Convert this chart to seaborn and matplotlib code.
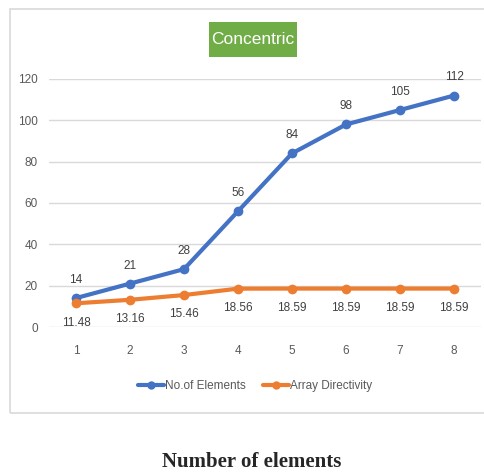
import matplotlib
matplotlib.use("Agg")
import matplotlib.pyplot as plt
from matplotlib.patches import Rectangle
import seaborn as sns
import pandas as pd

# Chart data
elements_idx = [1, 2, 3, 4, 5, 6, 7, 8]
num_elements = [14, 21, 28, 56, 84, 98, 105, 112]
directivity = [11.48, 13.16, 15.46, 18.56, 18.59, 18.59, 18.59, 18.59]
directivity_labels = ["11.48", "13.16", "15.46", "18.56", "18.59", "18.59", "18.59", "18.59"]
series_names = ["No.of Elements", "Array Directivity"]
y_ticks = [0, 20, 40, 60, 80, 100, 120]

BLUE = "#4472C4"
ORANGE = "#ED7D31"
GRID = "#D9D9D9"
TEXT = "#595959"

sns.set_style("white")
plt.rcParams["font.family"] = ["Liberation Sans", "DejaVu Sans"]

df = pd.DataFrame({
    "x": elements_idx * 2,
    "value": num_elements + directivity,
    "series": [series_names[0]] * 8 + [series_names[1]] * 8,
})

W, H = 485, 473
fig = plt.figure(figsize=(W / 100, H / 100), dpi=100)

# outer chart frame
fig.patches.append(Rectangle((10 / W, 1 - 413 / H), 1.2, (413 - 9) / H,
                             transform=fig.transFigure, fill=False,
                             edgecolor=GRID, linewidth=1.2, zorder=0))

ax = fig.add_axes([49 / W, 1 - 327 / H, 432 / W, 248 / H])
sns.lineplot(data=df, x="x", y="value", hue="series",
             palette=[BLUE, ORANGE], marker="o", markersize=7,
             markeredgewidth=0, linewidth=3, ax=ax, legend=False)

ax.set_xlim(0.5, 8.5)
ax.set_ylim(0, 120)
ax.set_yticks(y_ticks)
ax.set_xticks(elements_idx)
ax.yaxis.grid(True, color=GRID, linewidth=1)
ax.set_axisbelow(True)
for s in ax.spines.values():
    s.set_visible(False)
ax.tick_params(axis="both", length=0, labelsize=8.5, labelcolor=TEXT)
ax.tick_params(axis="y", pad=8)
ax.tick_params(axis="x", pad=13)
ax.set_xlabel("")
ax.set_ylabel("")

# data labels
for x, v in zip(elements_idx, num_elements):
    ax.annotate(str(v), (x, v), xytext=(0, 13), textcoords="offset points",
                ha="center", va="center", fontsize=8.5, color="#404040")
for x, v, t in zip(elements_idx, directivity, directivity_labels):
    ax.annotate(t, (x, v), xytext=(0, -14), textcoords="offset points",
                ha="center", va="center", fontsize=8.5, color="#404040")

# title badge
fig.patches.append(Rectangle((209 / W, 1 - 57 / H), 88 / W, 35 / H,
                             transform=fig.transFigure, facecolor="#70AD47",
                             edgecolor="none", zorder=1))
fig.text(253 / W, 1 - 40 / H, "Concentric", ha="center", va="center",
         fontsize=12.5, color="white", zorder=2)

# legend
handles = [plt.Line2D([], [], color=c, marker="o", markersize=6, linewidth=3,
                      markeredgewidth=0) for c in (BLUE, ORANGE)]
fig.legend(handles, series_names, loc="center", bbox_to_anchor=(255 / W, 1 - 386 / H),
           ncol=2, frameon=False, fontsize=8.5, labelcolor=TEXT,
           handlelength=2.2, handletextpad=0.1, columnspacing=1.5)

# caption under the chart
fig.text(252 / W, 1 - 462 / H, "Number of elements", ha="center", va="center",
         fontsize=15, fontweight="bold", family=["Liberation Serif", "DejaVu Serif"])

fig.savefig("out.png", dpi=100)
